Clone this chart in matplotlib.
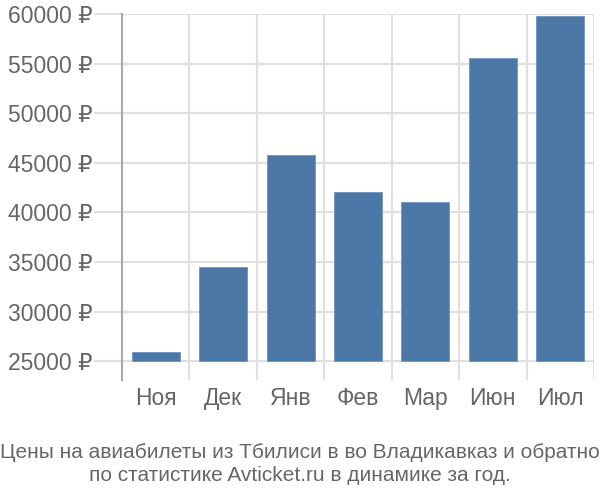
import matplotlib
matplotlib.use("Agg")
import matplotlib.pyplot as plt

months = ["Ноя", "Дек", "Янв", "Фев", "Мар", "Июн", "Июл"]
prices = [25900, 34500, 45800, 42100, 41050, 55600, 59750]
yticks = [25000, 30000, 35000, 40000, 45000, 50000, 55000, 60000]
ytick_labels = [f"{v} ₽" for v in yticks]
title = "Цены на авиабилеты из Тбилиси в во Владикавказ и обратно\nпо статистике Avticket.ru в динамике за год."

plt.rcParams['font.family'] = ['Liberation Sans', 'DejaVu Sans']

fig = plt.figure(figsize=(6, 5), dpi=100)
ax = fig.add_axes([122/600, 1-380/500, (594-122)/600, (380-14)/500])

base = 25000
x = list(range(len(months)))
ax.bar(x, [p - base for p in prices], bottom=base, width=0.71, color="#4c78a8",
       edgecolor="#6f93c0", linewidth=0.6, zorder=3)

ax.set_xlim(-0.5, len(months) - 0.5)
ax.set_ylim(23100, 60000)
ax.set_yticks(yticks)
ax.set_yticklabels(ytick_labels, fontsize=16.5, color="#666666")
ax.set_xticks([i + 0.5 for i in range(-1, len(months))], minor=True)
ax.set_xticks(x)
ax.set_xticklabels(months, fontsize=16.5, color="#666666")

ax.grid(axis="y", color="#e0e0e0", linewidth=1.5, zorder=0)
ax.grid(axis="x", which="minor", color="#e0e0e0", linewidth=1.5, zorder=0)
ax.tick_params(axis="y", length=20, color="#e0e0e0", width=1.5, pad=1)
ax.tick_params(axis="x", which="major", length=0, pad=5)
ax.tick_params(axis="x", which="minor", length=0)
for s in ["top", "right", "bottom"]:
    ax.spines[s].set_visible(False)
ax.spines["left"].set_color("#aaaaaa")
ax.spines["left"].set_linewidth(1.5)

fig.text(0.5, 0.03, title, ha="center", va="bottom", fontsize=15, color="#666666",
         linespacing=1.3)

fig.savefig("out.png", dpi=100)
